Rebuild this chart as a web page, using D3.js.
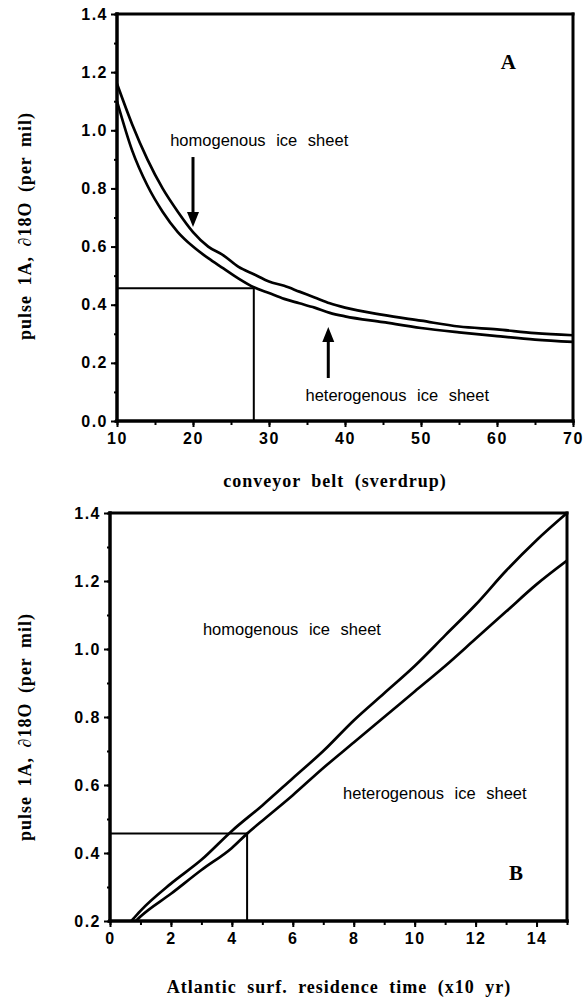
<!DOCTYPE html>
<html>
<head>
<meta charset="utf-8">
<script src="https://cdn.jsdelivr.net/npm/d3@7"></script>
<style>
body { margin: 0; background: #fff; }
</style>
</head>
<body>
<div id="chart"></div>
<script>
// panel A : pulse 1A vs conveyor belt flux
const aConveyor = [10, 12, 14, 16, 18, 20, 22, 24, 26, 28, 30, 32, 34, 36, 38, 40, 45, 50, 55, 60, 65, 70]
const aHomog = [1.16, 1.02, 0.90, 0.80, 0.72, 0.65, 0.60, 0.57, 0.53, 0.505, 0.48, 0.465, 0.445, 0.425, 0.405, 0.39, 0.365, 0.345, 0.325, 0.315, 0.302, 0.295]
const aHetero = [1.10, 0.93, 0.81, 0.72, 0.65, 0.60, 0.56, 0.525, 0.49, 0.46, 0.44, 0.42, 0.405, 0.39, 0.372, 0.36, 0.34, 0.32, 0.305, 0.292, 0.28, 0.272]
const aXTicks = [10, 20, 30, 40, 50, 60, 70]
const aYTicks = [0.0, 0.2, 0.4, 0.6, 0.8, 1.0, 1.2, 1.4]
const aReadout = [28, 0.457]          // conveyor, pulse
const aArrowHomog = [20, 0.908, 0.667] // x, tail, tip
const aArrowHetero = [37.8, 0.148, 0.323]

// panel B : pulse 1A vs Atlantic surface residence time
const bTimeHomog = [0.7, 1, 2, 3, 4, 5, 6, 7, 8, 9, 10, 11, 12, 13, 14, 15]
const bHomog = [0.2, 0.23, 0.31, 0.38, 0.465, 0.54, 0.62, 0.70, 0.79, 0.87, 0.95, 1.04, 1.13, 1.23, 1.32, 1.40]
const bTimeHetero = [0.85, 1, 2, 3, 4, 4.5, 5, 6, 7, 8, 9, 10, 11, 12, 13, 14, 15]
const bHetero = [0.2, 0.213, 0.28, 0.35, 0.415, 0.457, 0.495, 0.57, 0.65, 0.725, 0.80, 0.875, 0.95, 1.03, 1.11, 1.19, 1.26]
const bXTicks = [0, 2, 4, 6, 8, 10, 12, 14]
const bYTicks = [0.2, 0.4, 0.6, 0.8, 1.0, 1.2, 1.4]
const bReadout = [4.5, 0.457]

const yLabel = "pulse 1A, \u220218O (per mil)"

var svg = d3.select("#chart")
    .append("svg")
    .attr("width", 587)
    .attr("height", 1000)

function renderPanel(p) {
    let x = d3.scaleLinear().domain(p.xDomain).range(p.xRange)
    let y = d3.scaleLinear().domain(p.yDomain).range(p.yRange)

    let g = svg.append("g")

    // minor ticks first, then the labelled ones
    let xMinor = d3.range(p.xDomain[0], p.xDomain[1] + 0.001, p.xMinorStep)
    let yMinor = d3.range(p.yDomain[0], p.yDomain[1] + 0.001, p.yMinorStep)

    g.append("g")
        .attr("transform", "translate(0," + p.yRange[0] + ")")
        .call(d3.axisBottom(x).tickValues(xMinor).tickSize(4).tickFormat(""))
    g.append("g")
        .attr("transform", "translate(" + p.xRange[0] + ",0)")
        .call(d3.axisLeft(y).tickValues(yMinor).tickSize(3).tickFormat(""))

    g.append("g")
        .attr("class", "xaxis")
        .attr("transform", "translate(0," + p.yRange[0] + ")")
        .call(d3.axisBottom(x).tickValues(p.xTicks).tickSize(6).tickPadding(6).tickFormat(d3.format("d")))
    g.append("g")
        .attr("class", "yaxis")
        .attr("transform", "translate(" + p.xRange[0] + ",0)")
        .call(d3.axisLeft(y).tickValues(p.yTicks).tickSize(6).tickPadding(3).tickFormat(d3.format(".1f")))

    g.selectAll(".domain").remove()
    g.selectAll(".tick line").attr("stroke", "black").style("stroke-width", "2px")
    g.selectAll(".tick text")
        .attr("fill", "black")
        .style("font-family", "'Liberation Sans', Arial, sans-serif")
        .style("font-weight", "bold")
        .style("font-size", "16px")
        .style("letter-spacing", "1.5px")

    // frame
    let x0 = p.xRange[0], x1 = p.xRange[1], y0 = p.yRange[0], y1 = p.yRange[1]
    let frame = [
        [x0, y0, x1, y0, 3.5],
        [x0, y0, x0, y1, 3.5],
        [x0, y1, x1, y1, 3],
        [x1, y0, x1, y1, 3]
    ]
    g.selectAll("frame")
        .data(frame)
        .enter()
        .append("line")
        .attr("x1", d => d[0]).attr("y1", d => d[1])
        .attr("x2", d => d[2]).attr("y2", d => d[3])
        .attr("stroke", "black")
        .style("stroke-width", d => d[4] + "px")
        .style("stroke-linecap", "square")

    let clipId = "clip" + p.name
    svg.append("clipPath").attr("id", clipId)
        .append("rect")
        .attr("x", x0).attr("y", y1)
        .attr("width", x1 - x0).attr("height", y0 - y1)

    // readout lines
    let rx = x(p.readout[0]), ry = y(p.readout[1])
    g.append("path")
        .attr("d", "M" + x0 + "," + ry + "H" + rx + "V" + y0)
        .attr("fill", "none")
        .attr("stroke", "black")
        .style("stroke-width", "2px")

    // curves
    let line = d3.line()
        .x(d => x(d[0]))
        .y(d => y(d[1]))
        .curve(d3.curveMonotoneX)

    g.selectAll("curves")
        .data(p.series)
        .enter()
        .append("path")
        .attr("d", d => line(d))
        .attr("clip-path", "url(#" + clipId + ")")
        .attr("fill", "none")
        .attr("stroke", "black")
        .style("stroke-width", "2.7px")

    // arrows
    g.selectAll("arrows")
        .data(p.arrows)
        .enter()
        .append("line")
        .attr("x1", d => x(d[0])).attr("x2", d => x(d[0]))
        .attr("y1", d => y(d[1]))
        .attr("y2", d => y(d[2]) + (y(d[1]) < y(d[2]) ? -10 : 10))
        .attr("stroke", "black")
        .style("stroke-width", "3px")
    g.selectAll("heads")
        .data(p.arrows)
        .enter()
        .append("path")
        .attr("d", function (d) {
            let tx = x(d[0]), ty = y(d[2])
            let s = y(d[1]) < ty ? -1 : 1
            return "M" + tx + "," + ty + "L" + (tx - 6) + "," + (ty + s * 15) + "L" + (tx + 6) + "," + (ty + s * 15) + "Z"
        })
        .attr("fill", "black")

    // annotations
    g.selectAll("notes")
        .data(p.notes)
        .enter()
        .append("text")
        .attr("x", d => x(d[1]))
        .attr("y", d => y(d[2]))
        .text(d => d[0])
        .style("font-family", "'Liberation Sans', Arial, sans-serif")
        .style("font-size", "16.5px")
        .style("word-spacing", "6px")

    g.append("text")
        .attr("x", x(p.panelPos[0]))
        .attr("y", y(p.panelPos[1]))
        .text(p.name)
        .style("font-family", "'Liberation Serif', 'Times New Roman', serif")
        .style("font-weight", "bold")
        .style("font-size", "21px")

    // axis titles
    g.append("text")
        .attr("x", p.xTitlePos[0])
        .attr("y", p.xTitlePos[1])
        .attr("text-anchor", "middle")
        .text(p.xTitle)
        .style("font-family", "'Liberation Serif', 'Times New Roman', serif")
        .style("font-weight", "bold")
        .style("font-size", "18px")
        .style("letter-spacing", "1px")
        .style("word-spacing", "5px")

    g.append("text")
        .attr("transform", "translate(" + p.yTitlePos[0] + "," + p.yTitlePos[1] + ") rotate(-90)")
        .attr("text-anchor", "middle")
        .text(yLabel)
        .style("font-family", "'Liberation Serif', 'Times New Roman', serif")
        .style("font-weight", "bold")
        .style("font-size", "18px")
        .style("letter-spacing", "1px")
        .style("word-spacing", "4px")
}

document.addEventListener('DOMContentLoaded', drawAll, false)

function drawAll() {
    renderPanel({
        name: "A",
        xDomain: [10, 70], xRange: [117, 573],
        yDomain: [0, 1.4], yRange: [421, 14],
        xMinorStep: 5, yMinorStep: 0.1,
        xTicks: aXTicks, yTicks: aYTicks,
        series: [d3.zip(aConveyor, aHomog), d3.zip(aConveyor, aHetero)],
        readout: aReadout,
        arrows: [aArrowHomog, aArrowHetero],
        notes: [["homogenous ice sheet", 17, 0.945], ["heterogenous ice sheet", 34.8, 0.07]],
        panelPos: [60.5, 1.21],
        xTitle: "conveyor belt (sverdrup)", xTitlePos: [335, 487],
        yTitlePos: [31, 226]
    })
    renderPanel({
        name: "B",
        xDomain: [0, 15], xRange: [110, 567],
        yDomain: [0.2, 1.4], yRange: [921, 513],
        xMinorStep: 1, yMinorStep: 0.1,
        xTicks: bXTicks, yTicks: bYTicks,
        series: [d3.zip(bTimeHomog, bHomog), d3.zip(bTimeHetero, bHetero)],
        readout: bReadout,
        arrows: [],
        notes: [["homogenous ice sheet", 3.05, 1.04], ["heterogenous ice sheet", 7.65, 0.56]],
        panelPos: [13.1, 0.32],
        xTitle: "Atlantic surf. residence time (x10 yr)", xTitlePos: [339, 993],
        yTitlePos: [31, 727]
    })
}
</script>
</body>
</html>
